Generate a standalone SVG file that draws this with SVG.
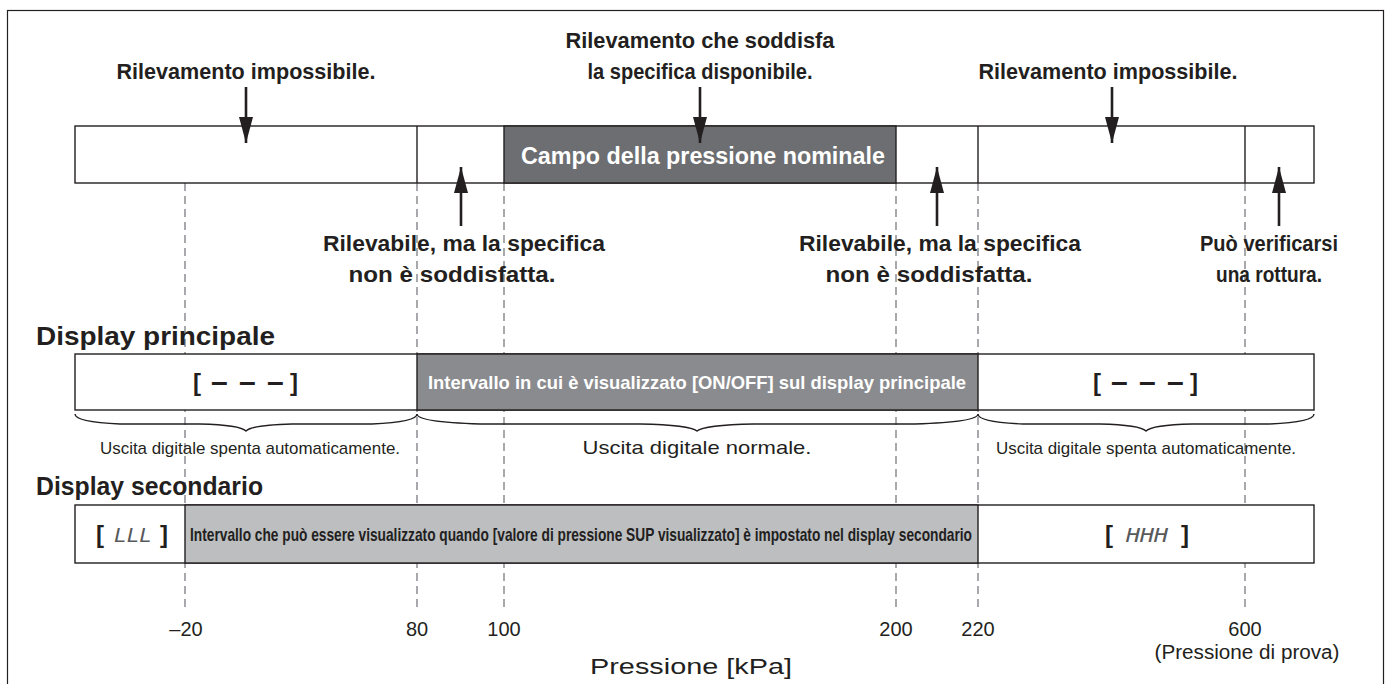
<svg xmlns="http://www.w3.org/2000/svg" width="1388" height="684" viewBox="0 0 1388 684">
<defs>
<style>
.b{font-family:"Liberation Sans",Arial,sans-serif;font-weight:bold;fill:#231f20;font-size:21.5px;text-anchor:middle}
.h{font-family:"Liberation Sans",Arial,sans-serif;font-weight:bold;fill:#231f20;font-size:25px}
.n{font-family:"Liberation Sans",Arial,sans-serif;fill:#231f20;font-size:20px;text-anchor:middle}
.s{font-family:"Liberation Sans",Arial,sans-serif;fill:#231f20;font-size:17px;text-anchor:middle}
.br{font-family:"Liberation Sans",Arial,sans-serif;font-weight:bold;fill:#231f20;font-size:24px;text-anchor:middle}
.dd{font-family:"Liberation Sans",Arial,sans-serif;font-weight:bold;fill:#231f20;font-size:30px;text-anchor:middle;letter-spacing:1.5px}
.bar{stroke:#231f20;stroke-width:1.4}
.dash{stroke:#a7a9ac;stroke-width:2;stroke-dasharray:8 5;fill:none}
.arr{stroke:#231f20;stroke-width:2.6;fill:none}
.brace{stroke:#231f20;stroke-width:1.4;fill:none}
.seg{font-family:"DejaVu Sans Mono","Liberation Mono",monospace;font-weight:normal;font-style:italic;font-size:20px;fill:#58595b;text-anchor:middle}
</style>
<marker id="ah2" viewBox="0 0 26 14" refX="26" refY="7" markerWidth="26" markerHeight="14" markerUnits="userSpaceOnUse" orient="auto">
<path d="M0,0 L26,7 L0,14 Z" fill="#231f20"/>
</marker>
</defs>
<rect x="7.5" y="10.5" width="1376" height="690" fill="#fff" stroke="#231f20" stroke-width="1.2"/>

<g id="guides">
<line class="dash" x1="185" y1="183" x2="185" y2="610"/>
<line class="dash" x1="417" y1="183" x2="417" y2="610"/>
<line class="dash" x1="504" y1="183" x2="504" y2="610"/>
<line class="dash" x1="896" y1="183" x2="896" y2="610"/>
<line class="dash" x1="978" y1="183" x2="978" y2="610"/>
<line class="dash" x1="1245" y1="183" x2="1245" y2="610"/>
</g>

<g id="top-bar">
<rect class="bar" x="75" y="126" width="1239" height="57" fill="#fff"/>
<rect class="bar" x="504" y="126" width="392" height="57" fill="#6d6e71"/>
<line class="bar" x1="417" y1="126" x2="417" y2="183"/>
<line class="bar" x1="978" y1="126" x2="978" y2="183"/>
<line class="bar" x1="1245" y1="126" x2="1245" y2="183"/>
<text class="b" x="703" y="164" style="fill:#fff;font-size:23.5px" textLength="364" lengthAdjust="spacingAndGlyphs">Campo della pressione nominale</text>
</g>

<g id="label-imp-left">
<text class="b" x="246" y="79" textLength="259" lengthAdjust="spacingAndGlyphs">Rilevamento impossibile.</text>
</g>
<g id="label-spec">
<text class="b" x="700" y="48" textLength="269" lengthAdjust="spacingAndGlyphs">Rilevamento che soddisfa</text>
<text class="b" x="700" y="79" textLength="225" lengthAdjust="spacingAndGlyphs">la specifica disponibile.</text>
</g>
<g id="label-imp-right">
<text class="b" x="1108" y="79" textLength="259" lengthAdjust="spacingAndGlyphs">Rilevamento impossibile.</text>
</g>
<g id="label-ril-left">
<text class="b" x="464" y="251" textLength="282" lengthAdjust="spacingAndGlyphs">Rilevabile, ma la specifica</text>
<text class="b" x="452" y="282" textLength="207" lengthAdjust="spacingAndGlyphs">non è soddisfatta.</text>
</g>
<g id="label-ril-right">
<text class="b" x="940" y="251" textLength="282" lengthAdjust="spacingAndGlyphs">Rilevabile, ma la specifica</text>
<text class="b" x="929" y="282" textLength="207" lengthAdjust="spacingAndGlyphs">non è soddisfatta.</text>
</g>
<g id="label-rottura">
<text class="b" x="1269" y="251" textLength="138" lengthAdjust="spacingAndGlyphs">Può verificarsi</text>
<text class="b" x="1269" y="282" textLength="106" lengthAdjust="spacingAndGlyphs">una rottura.</text>
</g>

<g id="connectors">
<line class="arr" x1="246" y1="87" x2="246" y2="143" marker-end="url(#ah2)"/>
<line class="arr" x1="700" y1="87" x2="700" y2="143" marker-end="url(#ah2)"/>
<line class="arr" x1="1112" y1="87" x2="1112" y2="143" marker-end="url(#ah2)"/>
<line class="arr" x1="461" y1="226" x2="461" y2="167" marker-end="url(#ah2)"/>
<line class="arr" x1="937" y1="226" x2="937" y2="167" marker-end="url(#ah2)"/>
<line class="arr" x1="1279" y1="226" x2="1279" y2="167" marker-end="url(#ah2)"/>
</g>

<g id="main-display">
<text class="h" x="36" y="345" textLength="239" lengthAdjust="spacingAndGlyphs">Display principale</text>
<rect class="bar" x="75" y="354" width="1239" height="56" fill="#fff"/>
<rect class="bar" x="417" y="354" width="561" height="56" fill="#8a8b8e"/>
<text class="br" x="197" y="391">[</text>
<text class="dd" x="248" y="392">– – –</text>
<text class="br" x="294" y="391">]</text>
<text class="br" x="1097" y="391">[</text>
<text class="dd" x="1148" y="392">– – –</text>
<text class="br" x="1194" y="391">]</text>
<text class="b" x="697" y="389" style="fill:#fff;font-size:19px" textLength="538" lengthAdjust="spacingAndGlyphs">Intervallo in cui è visualizzato [ON/OFF] sul display principale</text>
</g>

<g id="braces">
<path class="brace" d="M75,414 Q75,422 120,424 L200,424 Q240,425 246,431 Q252,425 292,424 L372,424 Q417,422 417,414"/>
<path class="brace" d="M417,414 Q417,422 480,424 L640,424 Q690,425 697,431 Q704,425 754,424 L915,424 Q978,422 978,414"/>
<path class="brace" d="M978,414 Q978,422 1023,424 L1100,424 Q1140,425 1146,431 Q1152,425 1192,424 L1269,424 Q1314,422 1314,414"/>
<text class="s" x="250" y="454" textLength="300" lengthAdjust="spacingAndGlyphs">Uscita digitale spenta automaticamente.</text>
<text class="s" x="697" y="454" style="font-size:19px" textLength="229" lengthAdjust="spacingAndGlyphs">Uscita digitale normale.</text>
<text class="s" x="1146" y="454" textLength="300" lengthAdjust="spacingAndGlyphs">Uscita digitale spenta automaticamente.</text>
</g>

<g id="secondary-display">
<text class="h" x="36" y="495" textLength="227" lengthAdjust="spacingAndGlyphs">Display secondario</text>
<rect class="bar" x="75" y="505" width="1239" height="58" fill="#fff"/>
<rect class="bar" x="185" y="505" width="793" height="58" fill="#bcbec0"/>
<text class="br" x="100" y="543">[</text>
<text class="seg" x="133" y="542" textLength="38" lengthAdjust="spacingAndGlyphs">LLL</text>
<text class="br" x="164" y="543">]</text>
<text class="br" x="1109" y="543">[</text>
<text class="seg" x="1147" y="542" textLength="42" lengthAdjust="spacingAndGlyphs">HHH</text>
<text class="br" x="1185" y="543">]</text>
<text class="b" x="0" y="0" style="font-size:18px" transform="matrix(0.675,0,0,1,581,541)" textLength="1158.5" lengthAdjust="spacingAndGlyphs">Intervallo che può essere visualizzato quando [valore di pressione SUP visualizzato] è impostato nel display secondario</text>
</g>

<g id="axis">
<text class="n" x="186" y="636">–20</text>
<text class="n" x="417" y="636">80</text>
<text class="n" x="504" y="636">100</text>
<text class="n" x="896" y="636">200</text>
<text class="n" x="978" y="636">220</text>
<text class="n" x="1245" y="636">600</text>
<text class="n" x="1247" y="659" textLength="185" lengthAdjust="spacingAndGlyphs">(Pressione di prova)</text>
<text class="n" x="691" y="674" style="font-size:22px" textLength="202" lengthAdjust="spacingAndGlyphs">Pressione [kPa]</text>
</g>
</svg>
